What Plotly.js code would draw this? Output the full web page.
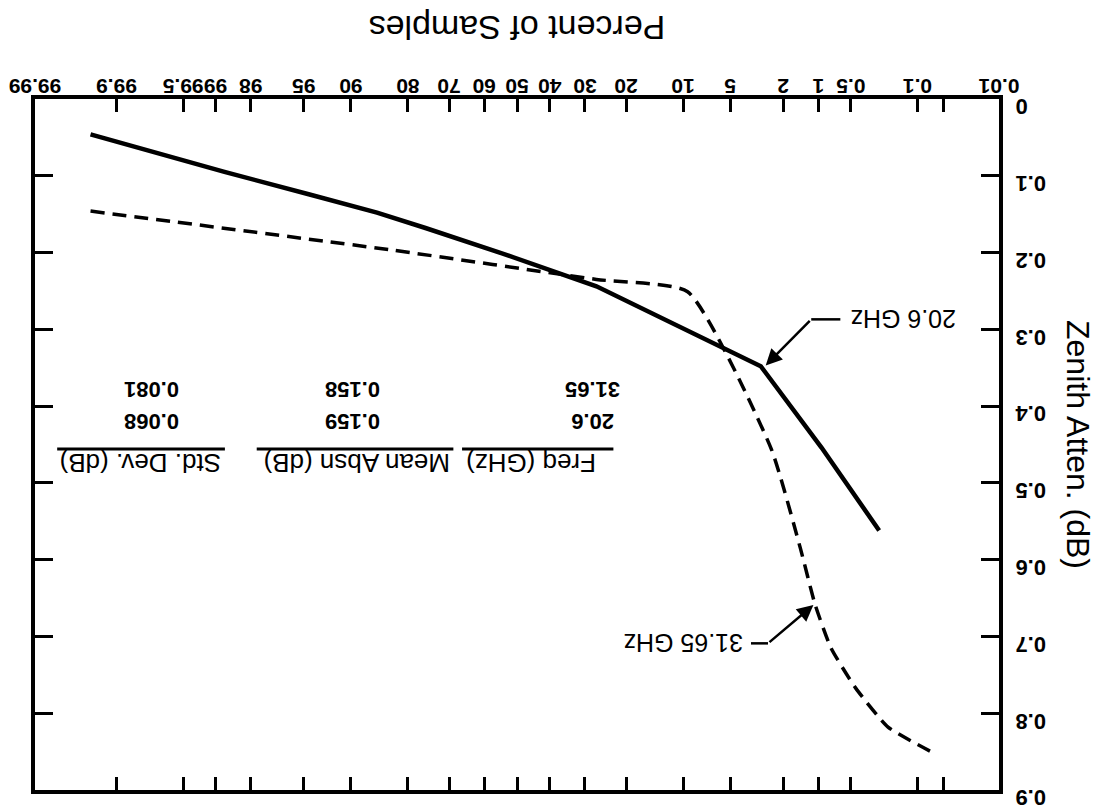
<!DOCTYPE html>
<html><head><meta charset="utf-8">
<script src="https://cdn.plot.ly/plotly-3.0.1.min.js"></script>
<style>
html,body{margin:0;padding:0;background:#fff;}
#chart{width:1100px;height:812px;transform:rotate(180deg);transform-origin:50% 50%;}
</style></head><body><div id="chart"></div>
<script>
// ---- data ----
const tickPercents = [0.01,0.05,0.1,0.5,1,2,5,10,20,30,40,50,60,70,80,90,95,98,99,99.5,99.9,99.99];
const tickLabels = ['0.01','','0.1','0.5','1','2','5','10','20','30','40','50','60','70','80','90','95','98','99','99.5','99.9','99.99'];
const attenTicks = [0,0.1,0.2,0.3,0.4,0.5,0.6,0.7,0.8,0.9];
const attenTickLabels = ['0','0.1','0.2','0.3','0.4','0.5','0.6','0.7','0.8','0.9'];

const pct206 = [99.95, 98.8, 94.6, 86, 76, 56, 27, 11.2, 3.0, 0.94, 0.26];
const atten206 = [0.046, 0.095, 0.124, 0.148, 0.168, 0.199, 0.244, 0.293, 0.348, 0.454, 0.562];
const pct3165 = [99.95, 83, 27, 9.4, 2.5, 1.44, 1.07, 0.77, 0.45, 0.21, 0.065];
const atten3165 = [0.146, 0.197, 0.235, 0.251, 0.455, 0.585, 0.659, 0.715, 0.767, 0.818, 0.852];

const tableHeaders = ['Freq (GHz)','Mean Absn (dB)','Std. Dev. (dB)'];
const tableFreq = ['20.6','31.65'];
const tableMean = ['0.159','0.158'];
const tableStd = ['0.068','0.081'];

// ---- probability (probit) scale ----
function probit(p){
 const a=[-3.969683028665376e+01,2.209460984245205e+02,-2.759285104469687e+02,1.383577518672690e+02,-3.066479806614716e+01,2.506628277459239e+00];
 const b=[-5.447609879822406e+01,1.615858368580409e+02,-1.556989798598866e+02,6.680131188771972e+01,-1.328068155288572e+01];
 const c=[-7.784894002430293e-03,-3.223964580411365e-01,-2.400758277161838e+00,-2.549732539343734e+00,4.374664141464968e+00,2.938163982698783e+00];
 const d=[7.784695709041462e-03,3.224671290700398e-01,2.445134137142996e+00,3.754408661907416e+00];
 const pl=0.02425, ph=1-pl; let q,r;
 if(p<pl){q=Math.sqrt(-2*Math.log(p));return (((((c[0]*q+c[1])*q+c[2])*q+c[3])*q+c[4])*q+c[5])/((((d[0]*q+d[1])*q+d[2])*q+d[3])*q+1);}
 if(p<=ph){q=p-0.5;r=q*q;return (((((a[0]*r+a[1])*r+a[2])*r+a[3])*r+a[4])*r+a[5])*q/(((((b[0]*r+b[1])*r+b[2])*r+b[3])*r+b[4])*r+1);}
 q=Math.sqrt(-2*Math.log(1-p));return -(((((c[0]*q+c[1])*q+c[2])*q+c[3])*q+c[4])*q+c[5])/((((d[0]*q+d[1])*q+d[2])*q+d[3])*q+1);
}
const P = v => probit(v/100);

const FONT = 'Liberation Sans, Arial, Helvetica, sans-serif';

const traces = [
 {x: pct206.map(P), y: atten206, customdata: pct206, mode:'lines', name:'20.6 GHz',
  line:{color:'#000', width:4.5}, hovertemplate:'%{customdata}%%: %{y} dB<extra>20.6 GHz</extra>'},
 {x: pct3165.map(P), y: atten3165, customdata: pct3165, mode:'lines', name:'31.65 GHz',
  line:{color:'#000', width:3.5, dash:'14px,8px', shape:'spline', smoothing:0.5},
  hovertemplate:'%{customdata}%%: %{y} dB<extra>31.65 GHz</extra>'}
];

// table layout (paper coords)
const colX = [0.422, 0.671, 0.879];
const headX = [0.485, 0.666, 0.891];
const headY = 0.527, row1Y = 0.466, row2Y = 0.42, ulineY = 0.5065;
const ulines = [[0.40,0.557],[0.566,0.77],[0.803,0.977]];

const annotations = [];
tableHeaders.forEach((h,i)=>annotations.push({xref:'paper',yref:'paper',x:headX[i],y:headY,text:h,showarrow:false,
  xanchor:'center',yanchor:'middle',font:{family:FONT,size:26,color:'#000'}}));
[tableFreq, tableMean, tableStd].forEach((col,i)=>{
  col.forEach((v,j)=>annotations.push({xref:'paper',yref:'paper',x:colX[i],y:j===0?row1Y:row2Y,text:v,showarrow:false,
    xanchor:'center',yanchor:'middle',font:{family:FONT,size:22,color:'#000',weight:'bold'}}));
});
// curve labels with elbow arrows
annotations.push({x:P(0.528),y:0.287,text:'20.6 GHz',showarrow:false,xanchor:'right',yanchor:'middle',
  font:{family:FONT,size:25,color:'#000'}});
annotations.push({x:P(2.75),y:0.347,ax:P(1.16),ay:0.287,axref:'x',ayref:'y',text:'',showarrow:true,
  arrowhead:2,arrowsize:1.3,arrowwidth:2.5,arrowcolor:'#000',standoff:0});
annotations.push({x:P(3.93),y:0.709,text:'31.65 GHz',showarrow:false,xanchor:'left',yanchor:'middle',
  font:{family:FONT,size:25,color:'#000'}});
annotations.push({x:P(1.11),y:0.659,ax:P(2.64),ay:0.709,axref:'x',ayref:'y',text:'',showarrow:true,
  arrowhead:2,arrowsize:1.3,arrowwidth:2.5,arrowcolor:'#000',standoff:0});

const shapes = ulines.map(u=>({type:'line',xref:'paper',yref:'paper',x0:u[0],x1:u[1],y0:ulineY,y1:ulineY,
  line:{color:'#000',width:3}}));
shapes.push({type:'line',x0:P(0.63),x1:P(1.16),y0:0.287,y1:0.287,line:{color:'#000',width:2.5}});
shapes.push({type:'line',x0:P(3.55),x1:P(2.64),y0:0.709,y1:0.709,line:{color:'#000',width:2.5}});

const eps = 1e-6;
const layout = {
 width:1100, height:812,
 margin:{l:101, r:35, t:22, b:99, pad:0},
 paper_bgcolor:'#fff', plot_bgcolor:'#fff',
 showlegend:false,
 font:{family:FONT, color:'#000'},
 xaxis:{
  range:[P(0.01)-eps, P(99.99)+eps], tickvals: tickPercents.map(P), ticktext: tickLabels, tickangle:0,
  showgrid:false, zeroline:false, showline:true, linewidth:3.5, linecolor:'#000', mirror:'ticks',
  ticks:'inside', ticklen:13, tickwidth:2.5, tickcolor:'#000',
  tickfont:{family:FONT, size:21, color:'#000', weight:'bold'}, ticklabelstandoff:-9,
  title:{text:'Percent of Samples', font:{family:FONT, size:34, color:'#000'}, standoff:37}
 },
 yaxis:{
  range:[0,0.9], tickvals: attenTicks, ticktext: attenTickLabels, tickangle:0,
  showgrid:false, zeroline:false, showline:true, linewidth:4, linecolor:'#000', mirror:'ticks',
  ticks:'inside', ticklen:18, tickwidth:2.5, tickcolor:'#000',
  tickfont:{family:FONT, size:22, color:'#000', weight:'bold'}, ticklabelstandoff:8, ticklabelshift:-8,
  title:{text:'Zenith Atten. (dB)', font:{family:FONT, size:32, color:'#000'}, standoff:12}
 },
 annotations: annotations,
 shapes: shapes
};

Plotly.newPlot('chart', traces, layout, {displayModeBar:false, responsive:false});
</script></body></html>
